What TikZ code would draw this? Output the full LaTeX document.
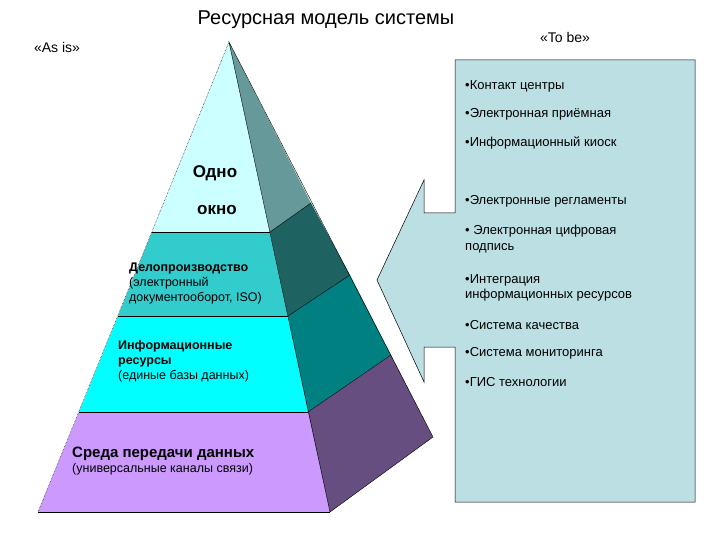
\documentclass[tikz,border=0pt]{standalone}
\usepackage{fontspec}
\setmainfont{Liberation Sans}
\begin{document}
\begin{tikzpicture}[x=1pt,y=-1pt,
  lst/.style={anchor=west,font=\fontsize{13}{15.5}\selectfont,align=left,inner sep=0},
  pt/.style={anchor=west,font=\fontsize{12.5}{15}\selectfont,align=left,inner sep=0},
  face/.style={draw=black,line width=0.4pt}]
\useasboundingbox (0,0) rectangle (720,540);
\definecolor{c1}{HTML}{CCFFFF}\definecolor{c2}{HTML}{33CCCC}\definecolor{c3}{HTML}{00FFFF}\definecolor{c4}{HTML}{CC99FF}
\definecolor{r1}{HTML}{669999}\definecolor{r2}{HTML}{1F6262}\definecolor{r3}{HTML}{008080}\definecolor{r4}{HTML}{664F80}
\definecolor{box}{HTML}{BCDFE4}
\coordinate (A) at (229,42);
% front face
\fill[c1] (A) -- (152,232) -- (270,232) -- cycle;
\fill[c2] (152,232) -- (118,316) -- (288,316) -- (270,232) -- cycle;
\fill[c3] (118,316) -- (79,412) -- (308,412) -- (288,316) -- cycle;
\fill[c4] (79,412) -- (38,512) -- (330,512) -- (308,412) -- cycle;
% right face
\fill[r1] (A) -- (270,232) -- (311,203) -- cycle;
\fill[r2] (270,232) -- (288,316) -- (350,275) -- (311,203) -- cycle;
\fill[r3] (288,316) -- (308,412) -- (391,355) -- (350,275) -- cycle;
\fill[r4] (308,412) -- (330,512) -- (433,437) -- (391,355) -- cycle;
\draw[face] (A) -- (330,512) -- (433,437) -- cycle;
\draw[face] (270,232) -- (311,203) (288,316) -- (350,275) (308,412) -- (391,355);
\draw[face] (152,232) -- (270,232) (118,316) -- (288,316) (79,412) -- (308,412) (38,512) -- (330,512);
\draw[black,densely dotted,line width=0.5pt] (A) -- (38,512);
% callout
\draw[fill=box,line width=0.5pt] (455,60) -- (695,60) -- (695,502) -- (455,502) -- (455,347) -- (424,347) -- (424,382) -- (377,280) -- (424,180) -- (424,213) -- (455,213) -- cycle;
% titles
\node[font=\fontsize{20}{24}\selectfont] (t) at (326,20) {Ресурсная модель системы};
\node[font=\fontsize{14}{17}\selectfont] (asis) at (57,47) {«As is»};
\node[font=\fontsize{14}{17}\selectfont] (tobe) at (565,37) {«To be»};
% pyramid text
\node[font=\bfseries\fontsize{17}{20}\selectfont] (o1) at (215,173) {Одно};
\node[font=\bfseries\fontsize{17}{20}\selectfont] (o2) at (217,210) {окно};
\node[pt,anchor=north west] (d) at (129,263) {\textbf{Делопроизводство}\\(электронный\\документооборот, ISO)};
\node[pt,anchor=north west] (i) at (118,340) {\textbf{Информационные}\\\textbf{ресурсы}\\(единые базы данных)};
\node[pt,anchor=north west] (s) at (72,447) {\textbf{\fontsize{15}{18}\selectfont Среда передачи данных}\\{\fontsize{12.5}{15}\selectfont(универсальные каналы связи)}};
% list
\node[lst] (l1) at (465,86) {•Контакт центры};
\node[lst] (l2) at (465,114) {•Электронная приёмная};
\node[lst] (l3) at (465,143) {•Информационный киоск};
\node[lst] (l4) at (465,201) {•Электронные регламенты};
\node[lst] (l5) at (465,239) {• Электронная цифровая\\подпись};
\node[lst] (l6) at (465,288) {•Интеграция\\информационных ресурсов};
\node[lst] (l7) at (465,325) {•Система качества};
\node[lst] (l8) at (465,353) {•Система мониторинга};
\node[lst] (l9) at (465,382) {•ГИС технологии};
\end{tikzpicture}
\end{document}
